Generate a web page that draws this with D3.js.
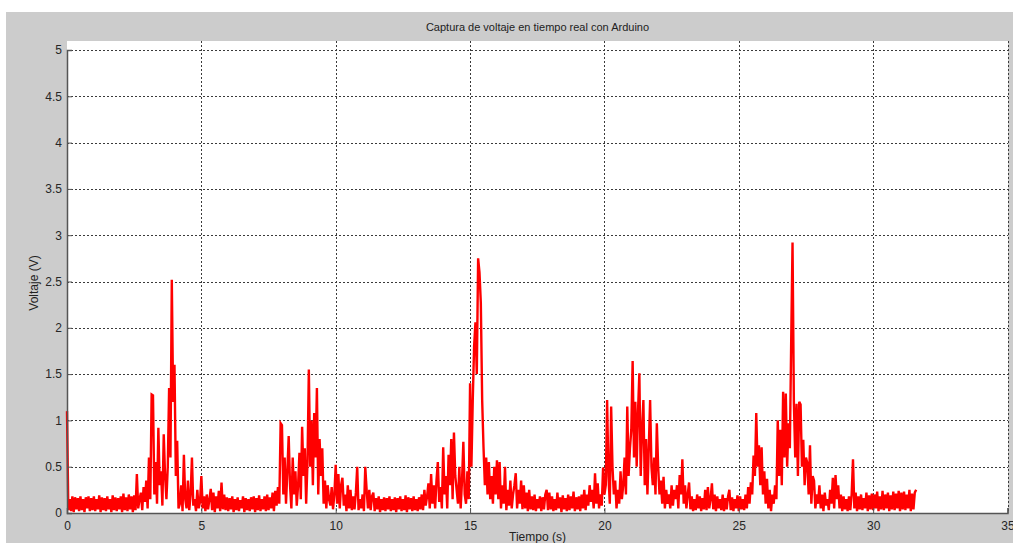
<!DOCTYPE html>
<html>
<head>
<meta charset="utf-8">
<script src="https://cdn.jsdelivr.net/npm/d3@7"></script>
<style>
  html, body { margin: 0; padding: 0; background: #fff; }
  svg { display: block; font-family: "Liberation Sans", Arial, sans-serif; }
</style>
</head>
<body>
<svg id="chart" width="1013" height="543"></svg>
<script>
// voltage samples, one every 0.05 s, one row per second
const sampleStep = 0.05;
const voltage = [
  1.10,0.03,0.15,0.02,0.18,0.01,0.17,0.04,0.16,0.02,0.18,0.03,0.15,0.01,0.17,0.05,0.18,0.02,0.16,0.03,
  0.18,0.02,0.15,0.04,0.19,0.01,0.17,0.03,0.16,0.02,0.18,0.04,0.15,0.01,0.19,0.03,0.17,0.02,0.16,0.04,
  0.18,0.01,0.21,0.03,0.17,0.02,0.20,0.04,0.18,0.01,0.19,0.03,0.42,0.05,0.15,0.22,0.03,0.28,0.12,0.35,
  0.05,0.60,0.15,1.28,1.27,0.20,0.55,0.10,0.92,0.30,0.45,0.08,0.85,0.40,0.15,0.50,1.35,0.60,2.52,1.20,
  1.60,0.40,0.78,0.05,0.10,0.30,0.02,0.63,0.15,0.05,0.35,0.03,0.20,0.60,0.08,0.15,0.02,0.25,0.05,0.12,
  0.40,0.05,0.18,0.02,0.20,0.04,0.15,0.26,0.03,0.22,0.01,0.18,0.05,0.24,0.02,0.33,0.04,0.20,0.03,0.17,
  0.02,0.16,0.04,0.18,0.01,0.15,0.03,0.17,0.02,0.14,0.05,0.18,0.01,0.16,0.03,0.15,0.02,0.17,0.04,0.18,
  0.01,0.16,0.03,0.19,0.02,0.15,0.04,0.18,0.02,0.20,0.03,0.17,0.05,0.22,0.02,0.24,0.08,0.28,0.10,0.97,
  0.95,0.20,0.60,0.10,0.45,0.83,0.30,0.05,0.60,0.20,0.45,0.08,0.30,0.65,0.15,0.93,0.40,0.70,0.10,0.55,
  1.55,0.50,1.00,0.30,1.08,0.60,1.35,0.20,0.80,0.40,0.70,0.10,0.35,0.05,0.30,0.15,0.08,0.28,0.04,0.20,
  0.52,0.10,0.42,0.05,0.30,0.38,0.08,0.20,0.02,0.30,0.05,0.25,0.03,0.18,0.04,0.22,0.50,0.03,0.15,0.05,
  0.20,0.02,0.50,0.25,0.05,0.25,0.03,0.18,0.22,0.02,0.16,0.04,0.18,0.01,0.15,0.03,0.17,0.02,0.16,0.04,
  0.18,0.02,0.15,0.03,0.17,0.01,0.16,0.04,0.18,0.02,0.15,0.03,0.19,0.01,0.17,0.04,0.16,0.02,0.18,0.03,
  0.15,0.02,0.17,0.04,0.20,0.03,0.25,0.08,0.18,0.32,0.05,0.42,0.10,0.30,0.05,0.35,0.55,0.12,0.28,0.05,
  0.71,0.20,0.40,0.05,0.63,0.30,0.80,0.15,0.87,0.40,0.25,0.10,0.50,0.05,0.35,0.77,0.20,0.10,0.45,0.15,
  1.40,0.50,1.22,1.80,2.06,1.50,2.75,2.60,2.27,1.22,0.71,0.30,0.60,0.20,0.55,0.15,0.40,0.10,0.50,0.20,
  0.57,0.15,0.55,0.05,0.30,0.10,0.50,0.03,0.25,0.08,0.35,0.05,0.20,0.30,0.43,0.05,0.25,0.10,0.35,0.04,
  0.30,0.05,0.22,0.02,0.25,0.04,0.18,0.03,0.20,0.02,0.15,0.05,0.18,0.02,0.17,0.04,0.20,0.25,0.03,0.22,
  0.04,0.18,0.02,0.15,0.03,0.22,0.05,0.17,0.01,0.19,0.04,0.16,0.02,0.20,0.03,0.18,0.05,0.23,0.02,0.17,
  0.04,0.18,0.02,0.20,0.05,0.25,0.03,0.20,0.08,0.30,0.12,0.25,0.05,0.43,0.10,0.32,0.05,0.20,0.08,0.49,
  0.20,0.30,1.22,0.40,0.10,1.15,0.50,0.20,0.35,0.05,0.25,0.10,0.45,0.15,0.30,0.60,0.20,1.15,0.40,0.70,
  0.90,1.64,0.60,1.20,0.50,1.10,1.51,0.40,0.90,1.22,0.30,0.80,0.20,0.70,1.22,0.50,0.30,0.60,0.20,0.97,
  0.50,0.20,0.35,0.10,0.39,0.05,0.25,0.10,0.20,0.05,0.30,0.08,0.25,0.15,0.30,0.05,0.41,0.20,0.58,0.10,
  0.30,0.05,0.20,0.33,0.04,0.18,0.02,0.15,0.03,0.20,0.05,0.18,0.02,0.16,0.04,0.25,0.03,0.28,0.05,0.15,
  0.32,0.04,0.20,0.02,0.18,0.05,0.15,0.03,0.20,0.02,0.16,0.04,0.18,0.25,0.03,0.17,0.02,0.15,0.05,0.19,
  0.02,0.18,0.04,0.15,0.03,0.20,0.05,0.28,0.10,0.33,0.20,0.62,0.40,1.08,0.50,0.73,0.30,0.71,0.20,0.45,
  0.10,0.37,0.05,0.25,0.02,0.20,0.10,0.30,0.15,1.00,0.40,0.90,0.30,1.31,0.60,1.29,0.50,0.97,0.70,1.85,
  2.92,1.20,0.60,1.18,0.40,1.20,1.17,0.50,0.79,0.30,0.60,0.54,0.20,0.73,0.10,0.40,0.35,0.05,0.20,0.10,
  0.30,0.05,0.20,0.02,0.22,0.08,0.15,0.03,0.25,0.10,0.38,0.05,0.41,0.15,0.30,0.05,0.20,0.02,0.18,0.04,
  0.15,0.02,0.18,0.03,0.20,0.58,0.05,0.22,0.02,0.18,0.04,0.20,0.03,0.16,0.05,0.22,0.02,0.19,0.04,0.21,
  0.03,0.20,0.05,0.23,0.02,0.18,0.04,0.24,0.03,0.20,0.05,0.22,0.02,0.19,0.04,0.23,0.03,0.21,0.05,0.24,
  0.02,0.22,0.04,0.23,0.03,0.20,0.05,0.25,0.02,0.21,0.04,0.22,0.25
];
const xTicks = [0, 5, 10, 15, 20, 25, 30, 35];
const yTicks = [0, 0.5, 1, 1.5, 2, 2.5, 3, 3.5, 4, 4.5, 5];

const title = 'Captura de voltaje en tiempo real con Arduino';
const xLabel = 'Tiempo (s)';
const yLabel = 'Voltaje (V)';

const svg = d3.select('#chart');
const plotLeft = 67, plotRight = 1008, plotTop = 41, plotBottom = 513;

// figure background
svg.append('rect')
  .attr('x', 6).attr('y', 12)
  .attr('width', 1007).attr('height', 531)
  .attr('fill', '#cccccc');

svg.append('rect')
  .attr('x', plotLeft).attr('y', plotTop)
  .attr('width', plotRight - plotLeft).attr('height', plotBottom - plotTop)
  .attr('fill', '#ffffff');

const x = d3.scaleLinear().domain([0, 35]).range([plotLeft, plotRight - 0.5]);
const y = d3.scaleLinear().domain([0, 5]).range([plotBottom, 50]);

// dotted grid
const grid = svg.append('g')
  .attr('stroke', '#3a3a3a')
  .attr('stroke-width', 1)
  .attr('stroke-dasharray', '2,2');

grid.selectAll('line.h').data(yTicks.filter(d => d > 0)).join('line')
  .attr('class', 'h')
  .attr('x1', plotLeft).attr('x2', plotRight)
  .attr('y1', d => Math.round(y(d)) + 0.5)
  .attr('y2', d => Math.round(y(d)) + 0.5);

grid.selectAll('line.v').data(xTicks.filter(d => d > 0)).join('line')
  .attr('class', 'v')
  .attr('y1', plotTop).attr('y2', plotBottom)
  .attr('x1', d => Math.round(x(d)) + 0.5)
  .attr('x2', d => Math.round(x(d)) + 0.5);

// signal
const line = d3.line()
  .x((d, i) => x(i * sampleStep))
  .y(d => y(d));

svg.append('path')
  .datum(voltage)
  .attr('d', line)
  .attr('fill', 'none')
  .attr('stroke', '#ff0000')
  .attr('stroke-width', 2.4)
  .attr('stroke-linejoin', 'miter');

// axes
const xAxis = svg.append('g')
  .attr('transform', `translate(0,${plotBottom})`)
  .call(d3.axisBottom(x).tickValues(xTicks).tickSize(-5).tickPadding(8).tickFormat(d3.format('d')));

const yAxis = svg.append('g')
  .attr('transform', `translate(${plotLeft},0)`)
  .call(d3.axisLeft(y).tickValues(yTicks).tickSize(-5).tickPadding(5).tickFormat(d => String(d)));

[xAxis, yAxis].forEach(g => {
  g.select('.domain').attr('stroke', '#555').attr('stroke-width', 1.5);
  g.selectAll('.tick line').attr('stroke', '#555');
  g.selectAll('.tick text')
    .attr('fill', '#262626')
    .attr('font-size', 12)
    .attr('font-family', '"Liberation Sans", Arial, sans-serif');
});

// texts
svg.append('text')
  .attr('x', (plotLeft + plotRight) / 2).attr('y', 31)
  .attr('text-anchor', 'middle')
  .attr('font-size', 11)
  .attr('fill', '#222')
  .text(title);

svg.append('text')
  .attr('x', (plotLeft + plotRight) / 2).attr('y', 541)
  .attr('text-anchor', 'middle')
  .attr('font-size', 12)
  .attr('fill', '#222')
  .text(xLabel);

svg.append('text')
  .attr('transform', `translate(38,${(plotTop + plotBottom) / 2 + 6}) rotate(-90)`)
  .attr('text-anchor', 'middle')
  .attr('font-size', 12)
  .attr('fill', '#222')
  .text(yLabel);
</script>
</body>
</html>
